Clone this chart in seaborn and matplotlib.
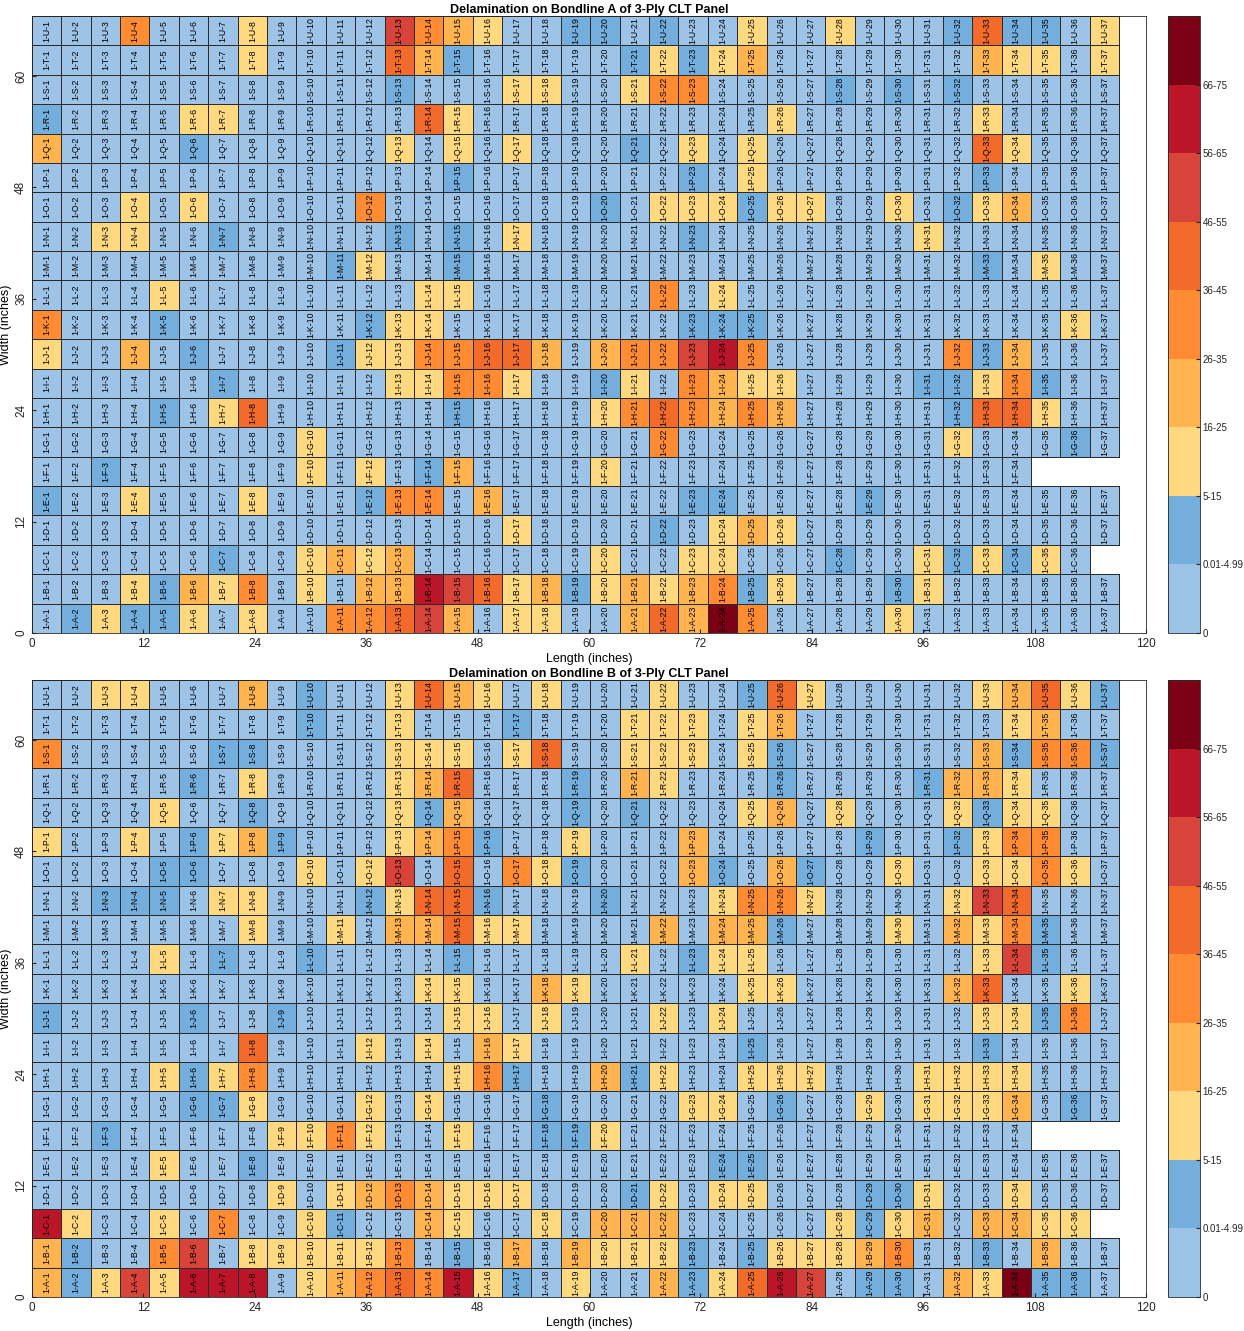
import numpy as np
import seaborn as sns
import matplotlib.pyplot as plt
from matplotlib.colors import ListedColormap, to_rgba

# level codes: 0 -> "0", 1 -> "0.01-4.99", 2 -> "5-15", ... 8 -> "66-75", -1 -> no cell
row_names = list('ABCDEFGHIJKLMNOPQRSTU')
col_numbers = list(range(1, 38))
level_labels = ['0', '0.01-4.99', '5-15', '16-25', '26-35', '36-45', '46-55', '56-65', '66-75']
level_colors = ['#9dc3e6', '#74aedd', '#ffd97f', '#ffb44f', '#ff8c33', '#f26b2a',
                '#d9443a', '#bc1428', '#7c0015']

# Bondline A, rows A..U, columns 1..37
bondline_a = [
    [0,1,2,1,1,2,0,2,0,0,4,4, 5,6,3,0,2,2,0,0,3,5,3,8,4, 0,0,0,0,2,0,0,0,0,0,0,0],  # A
    [0,0,0,2,1,3,2,4,0,2,0,3, 3,7,6,5,2,3,1,2,3,2,3,4,1, 2,0,0,0,1,2,0,0,0,0,0,0],  # B
    [0,0,0,0,0,0,1,0,0,2,3,2, 3,0,0,0,0,0,0,2,0,0,2,2,0, 0,0,1,0,0,2,1,2,1,2,0,-1], # C
    [0,0,0,0,0,0,0,0,0,0,0,0, 0,0,0,0,2,0,0,0,0,1,0,2,3, 2,0,0,0,0,0,0,0,0,0,0,0],  # D
    [1,0,0,2,0,0,0,2,0,0,0,1, 4,4,0,3,0,0,0,0,0,0,1,1,0, 0,0,0,1,0,0,0,0,0,0,0,0],  # E
    [0,0,1,0,0,0,0,0,0,2,0,2, 0,1,3,0,0,0,0,2,0,0,0,0,0, 0,0,0,0,0,0,0,0,0,-1,-1,-1],  # F
    [0,0,0,0,0,0,0,0,0,2,0,0, 0,0,0,0,0,0,0,0,0,4,0,0,0, 0,0,0,0,0,0,2,0,0,0,1,0],  # G
    [0,0,0,0,1,0,2,5,0,0,0,0, 0,0,1,0,0,0,0,2,4,5,4,3,4, 3,0,0,0,0,0,1,5,5,2,0,0],  # H
    [0,0,0,0,0,0,1,0,0,0,0,0, 2,2,4,4,2,0,0,1,2,0,4,3,2, 2,0,0,0,0,1,1,2,4,1,0,0],  # I
    [2,0,0,3,0,1,0,0,0,0,1,2, 2,4,4,5,5,3,0,3,4,4,6,7,4, 0,0,0,0,0,0,4,1,3,0,0,0],  # J
    [4,0,0,0,1,0,0,0,0,0,0,1, 2,2,0,0,0,0,0,0,0,0,1,1,1, 0,0,0,0,0,0,0,0,0,0,2,0],  # K
    [0,0,0,0,2,0,0,0,0,0,0,0, 0,2,2,0,0,0,0,0,0,4,0,2,0, 0,0,0,0,0,0,0,0,0,0,0,0],  # L
    [0,0,0,0,0,0,0,0,0,0,1,2, 0,0,1,0,0,0,0,0,0,0,0,0,0, 0,0,0,0,0,0,0,1,0,2,0,0],  # M
    [0,0,2,2,0,0,1,0,0,0,0,0, 1,0,1,0,2,0,0,0,0,0,1,0,0, 0,0,0,0,0,2,0,0,0,0,0,0],  # N
    [0,0,0,2,0,2,0,0,0,0,0,4, 0,0,0,0,0,0,0,1,0,2,2,2,1, 2,2,0,0,2,0,1,2,3,0,0,0],  # O
    [0,0,0,0,0,0,0,0,0,0,0,0, 0,0,1,0,0,0,0,0,0,0,1,0,2, 0,0,0,0,0,0,0,1,0,0,0,0],  # P
    [3,0,0,0,0,1,0,0,0,0,0,0, 2,0,2,0,2,0,0,0,1,0,2,0,2, 0,0,0,0,0,0,0,5,2,0,0,0],  # Q
    [1,0,0,0,0,2,2,0,0,0,0,0, 0,5,2,0,0,0,0,0,0,0,0,0,0, 2,0,0,0,0,0,0,2,0,0,0,0],  # R
    [0,0,0,0,0,0,0,0,0,0,0,0, 1,0,0,0,2,2,0,0,2,4,4,0,0, 0,0,1,0,1,0,1,0,0,0,0,0],  # S
    [0,0,0,0,0,0,0,2,0,0,0,0, 5,3,1,0,0,0,0,0,1,2,1,2,3, 0,0,0,0,0,0,0,3,2,2,0,2],  # T
    [0,0,0,4,0,0,0,2,0,0,0,0, 6,4,3,2,0,0,1,1,0,1,0,0,2, 0,0,2,0,0,0,1,5,1,1,0,2],  # U
]

# Bondline B, rows A..U, columns 1..37
bondline_b = [
    [3,1,2,6,2,7,7,7,0,2,3,4, 5,4,7,2,1,0,2,0,0,3,1,2,5, 7,6,0,1,1,0,3,2,8,1,1,0],  # A
    [3,1,0,0,4,6,0,2,2,2,2,2, 4,0,1,0,3,0,3,2,2,2,1,0,1, 2,2,2,3,4,0,0,1,0,3,0,0],  # B
    [7,2,0,0,2,0,4,0,0,2,1,0, 0,3,2,0,0,2,0,3,3,3,0,0,0, 0,0,2,1,2,3,0,3,3,2,2,-1], # C
    [0,0,0,0,0,0,0,0,2,0,2,3, 4,3,2,2,2,0,0,0,1,2,0,2,2, 0,0,0,1,1,2,0,0,2,0,0,0],  # D
    [0,0,0,0,2,0,0,1,0,0,0,0, 0,0,0,0,0,0,0,0,0,0,0,1,1, 0,0,0,0,0,0,0,0,0,0,0,0],  # E
    [0,0,1,0,0,0,0,0,2,2,4,2, 0,0,2,0,0,1,1,2,0,0,0,0,0, 0,0,0,0,0,0,0,0,0,-1,-1,-1],  # F
    [0,0,0,0,0,1,1,2,0,0,0,2, 0,2,0,0,0,1,0,0,0,0,2,2,0, 1,0,0,2,0,2,2,2,3,0,1,0],  # G
    [0,0,0,0,2,1,2,4,0,0,0,0, 0,0,2,4,1,0,0,3,1,2,0,0,2, 2,2,0,0,0,2,2,2,2,0,0,0],  # H
    [0,0,0,0,0,0,0,5,0,0,0,2, 0,2,0,3,2,0,0,0,0,0,0,0,1, 0,0,0,0,0,0,0,1,0,0,0,0],  # I
    [1,0,0,0,0,1,0,0,1,0,0,0, 0,0,2,2,0,2,0,0,0,2,0,2,0, 0,0,0,0,0,0,0,2,2,1,4,0],  # J
    [0,0,0,0,0,0,0,0,0,0,0,0, 0,2,2,0,0,3,2,0,0,0,0,0,2, 2,0,0,0,0,0,3,5,0,0,2,0],  # K
    [0,0,0,0,2,0,1,0,0,1,0,0, 0,0,1,0,0,0,0,0,2,0,1,2,2, 0,0,0,0,0,0,0,2,6,1,0,0],  # L
    [0,0,0,0,0,0,0,2,0,0,2,0, 3,3,5,2,2,0,0,0,0,3,0,3,3, 1,0,0,0,2,0,3,2,4,1,0,0],  # M
    [0,0,1,1,1,0,2,2,0,0,0,1, 2,5,5,1,0,0,0,1,0,0,0,2,4, 4,2,0,0,0,0,2,6,5,0,0,0],  # N
    [0,0,0,0,1,1,0,0,0,2,0,2, 6,0,5,0,4,2,1,0,0,0,3,1,0, 3,1,0,0,2,0,0,2,2,4,2,0],  # O
    [2,0,0,2,0,1,2,3,1,0,0,0, 2,3,4,1,0,0,2,0,0,0,3,0,0, 0,0,0,1,0,0,1,2,4,4,0,0],  # P
    [0,0,0,0,2,0,0,1,0,0,0,0, 2,1,3,0,0,0,1,0,1,0,0,0,2, 3,0,2,0,0,0,2,1,2,2,0,0],  # Q
    [0,0,0,0,0,1,0,2,0,0,0,0, 2,3,5,0,0,0,1,0,3,2,0,0,0, 1,0,0,0,0,1,3,3,2,0,0,0],  # R
    [4,0,0,0,0,0,1,1,0,0,0,0, 2,2,2,0,2,5,0,0,2,2,2,0,2, 1,0,0,0,0,0,0,3,1,4,4,1],  # S
    [0,0,0,0,0,0,0,0,0,1,0,0, 2,0,0,0,1,0,0,0,2,2,2,0,2, 3,0,0,0,0,0,0,0,2,3,0,0],  # T
    [0,0,2,2,0,0,0,3,0,1,0,0, 2,5,3,2,0,2,0,0,0,2,0,0,1, 5,2,0,0,0,0,0,2,3,5,2,1],  # U
]

cell = 3.165  # inches per cell
x_ticks = list(range(0, 121, 12))
y_ticks = list(range(0, 61, 12))

plt.rcParams['font.family'] = ['Liberation Sans', 'DejaVu Sans']
cmap = ListedColormap(level_colors)

fig = plt.figure(figsize=(12.44, 13.31), dpi=100)


def draw_panel(ax, cax, grid, title):
    codes = np.array(grid, dtype=float)
    mask = codes < 0
    labels = np.array([[f'1-{r}-{c}' for c in col_numbers] for r in row_names])
    sns.heatmap(codes + 0.5, ax=ax, cmap=cmap, vmin=0, vmax=9, mask=mask,
                annot=labels, fmt='',
                annot_kws={'rotation': 90, 'fontsize': 6.3, 'color': 'black'},
                linewidths=0.6, linecolor='#2b2b2b', cbar_ax=cax)
    # no border around the missing cells
    mesh = ax.collections[0]
    edge = np.tile(to_rgba('#2b2b2b'), (mask.size, 1))
    edge[mask.ravel()] = (0, 0, 0, 0)
    mesh.set_edgecolors(edge)

    ax.set_xlim(0, 120 / cell)
    ax.set_ylim(0, len(row_names))
    ax.set_xticks([t / cell for t in x_ticks])
    ax.set_xticklabels([str(t) for t in x_ticks], rotation=0)
    ax.set_yticks([t / cell for t in y_ticks])
    ax.set_yticklabels([str(t) for t in y_ticks], rotation=90, va='center')
    ax.tick_params(direction='in', length=3, labelsize=8.5, colors='#262626')
    for sp in ax.spines.values():
        sp.set_visible(True)
        sp.set_color('#262626')
        sp.set_linewidth(0.6)
    ax.set_xlabel('Length (inches)', fontsize=9, labelpad=2)
    ax.set_ylabel('Width (inches)', fontsize=9, labelpad=2)
    ax.set_title(title, fontsize=9, fontweight='bold', pad=2)

    cbar = mesh.colorbar
    cbar.set_ticks(range(9))
    cbar.set_ticklabels(level_labels)
    cbar.ax.tick_params(labelsize=7, direction='in', length=3, pad=2, colors='#262626')
    cbar.outline.set_visible(True)
    cbar.outline.set_edgecolor('#262626')
    cbar.outline.set_linewidth(0.6)


ax_a = fig.add_axes([0.0257, 0.5244, 0.8955, 0.4636])
cax_a = fig.add_axes([0.9389, 0.5244, 0.0257, 0.4636])
ax_b = fig.add_axes([0.0257, 0.0255, 0.8955, 0.4636])
cax_b = fig.add_axes([0.9389, 0.0255, 0.0257, 0.4636])

draw_panel(ax_a, cax_a, bondline_a, 'Delamination on Bondline A of 3-Ply CLT Panel')
draw_panel(ax_b, cax_b, bondline_b, 'Delamination on Bondline B of 3-Ply CLT Panel')

fig.savefig('out.png', dpi=100)
